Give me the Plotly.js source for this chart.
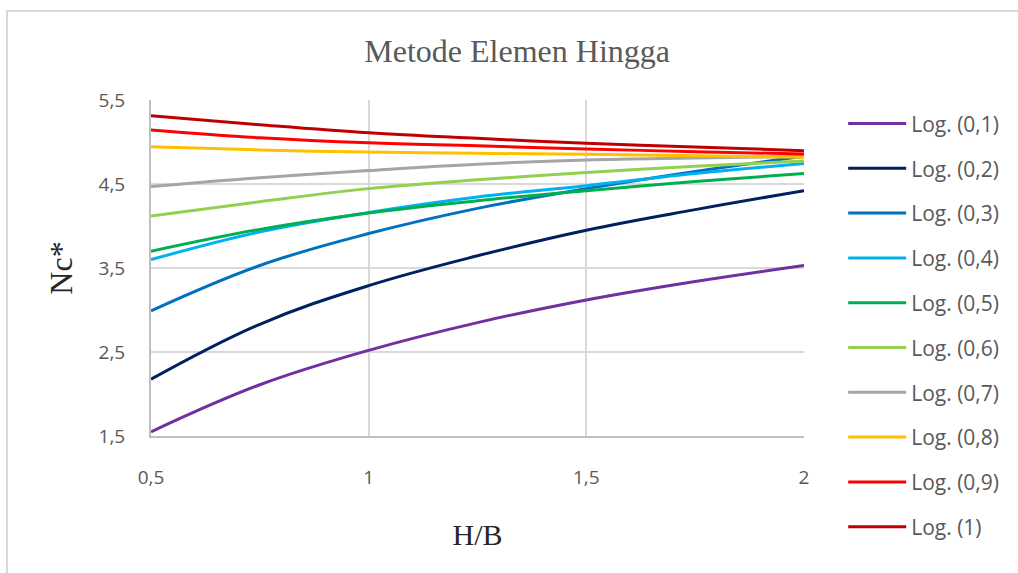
<!DOCTYPE html>
<html>
<head>
<meta charset="utf-8">
<script src="https://cdn.plot.ly/plotly-3.0.1.min.js"></script>
<style>
  html, body { margin: 0; padding: 0; background: #ffffff; }
  #frame {
    position: absolute; left: 6px; top: 10px;
    width: 1030px; height: 580px;
    border: 2px solid #d9d9d9; box-sizing: border-box;
  }
  #chart { position: absolute; left: 0; top: 0; width: 1018px; height: 573px; }
</style>
</head>
<body>
<div id="frame"></div>
<div id="chart"></div>
<script>
// H/B ratios along the horizontal axis
const hb = [0.5, 0.75, 1, 1.25, 1.5, 1.75, 2];

// Nc* logarithmic trend curves, one per ratio in the legend
const log01 = [1.55, 2.11, 2.52, 2.85, 3.12, 3.34, 3.53];
const log02 = [2.175, 2.83, 3.29, 3.645, 3.95, 4.195, 4.42];
const log03 = [2.99, 3.53, 3.91, 4.21, 4.445, 4.65, 4.83];
const log04 = [3.60, 3.93, 4.16, 4.345, 4.48, 4.625, 4.745];
const log05 = [3.70, 3.96, 4.155, 4.30, 4.42, 4.53, 4.625];
const log06 = [4.12, 4.29, 4.445, 4.55, 4.636, 4.71, 4.775];
const log07 = [4.47, 4.575, 4.66, 4.735, 4.786, 4.81, 4.83];
const log08 = [4.944, 4.905, 4.88, 4.865, 4.853, 4.835, 4.818];
const log09 = [5.143, 5.05, 4.99, 4.955, 4.917, 4.885, 4.857];
const log10 = [5.313, 5.206, 5.111, 5.044, 4.984, 4.94, 4.897];

const seriesNames = ['Log. (0,1)', 'Log. (0,2)', 'Log. (0,3)', 'Log. (0,4)', 'Log. (0,5)',
                     'Log. (0,6)', 'Log. (0,7)', 'Log. (0,8)', 'Log. (0,9)', 'Log. (1)'];
const seriesValues = [log01, log02, log03, log04, log05, log06, log07, log08, log09, log10];
const seriesColors = ['#7030A0', '#002060', '#0070C0', '#00B0F0', '#00B050',
                      '#92D050', '#A5A5A5', '#FFC000', '#FF0000', '#C00000'];

const xTicks = [0.5, 1, 1.5, 2];
const yTicks = [1.5, 2.5, 3.5, 4.5, 5.5];

const traces = seriesValues.map((vals, i) => ({
  type: 'scatter',
  mode: 'lines',
  x: hb,
  y: vals,
  name: seriesNames[i],
  legendgroup: 'g' + i,
  line: { color: seriesColors[i], width: 3, shape: 'spline', smoothing: 1.1 },
  hoverinfo: 'skip'
}));

const tickFont = { family: 'Open Sans, sans-serif', size: 19, color: '#595959' };

const layout = {
  width: 1018,
  height: 573,
  paper_bgcolor: 'rgba(0,0,0,0)',
  plot_bgcolor: '#ffffff',
  separators: ',.',
  margin: { l: 151, r: 214, t: 100, b: 137, autoexpand: false },
  title: {
    text: 'Metode Elemen Hingga',
    font: { family: 'Liberation Serif, serif', size: 32, color: '#595959' },
    x: 0.508, xanchor: 'center',
    y: 0.912, yanchor: 'middle'
  },
  xaxis: {
    range: [0.5, 2],
    tickvals: xTicks,
    ticks: 'outside', ticklen: 23, tickcolor: 'rgba(0,0,0,0)',
    tickfont: tickFont,
    showgrid: true, gridcolor: '#d9d9d9', gridwidth: 2,
    showline: true, linecolor: '#bfbfbf', linewidth: 2,
    zeroline: false,
    title: {
      text: 'H/B',
      font: { family: 'Liberation Serif, serif', size: 30, color: '#262626' },
      standoff: 35
    }
  },
  yaxis: {
    range: [1.5, 5.5],
    tickvals: yTicks,
    tickformat: '.1f',
    ticks: 'outside', ticklen: 20, tickcolor: 'rgba(0,0,0,0)',
    tickfont: tickFont,
    showgrid: true, gridcolor: '#d9d9d9', gridwidth: 2,
    showline: true, linecolor: '#bfbfbf', linewidth: 2,
    zeroline: false,
    title: {
      text: 'Nc*',
      font: { family: 'Liberation Serif, serif', size: 32, color: '#262626' },
      standoff: 16
    }
  },
  showlegend: true,
  legend: {
    x: 1.06, xanchor: 'left',
    y: 0.99, yanchor: 'top',
    traceorder: 'grouped',
    tracegroupgap: 14.5,
    itemwidth: 58,
    maxheight: 800,
    font: { family: 'Open Sans, sans-serif', size: 21, color: '#595959' },
    bgcolor: 'rgba(0,0,0,0)'
  }
};

Plotly.newPlot('chart', traces, layout, { staticPlot: true, displayModeBar: false });
</script>
</body>
</html>
